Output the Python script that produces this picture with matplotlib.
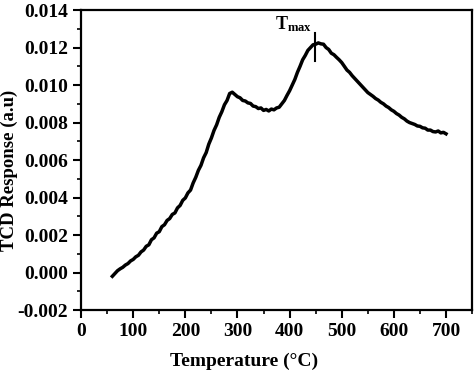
import matplotlib
matplotlib.use('Agg')
import matplotlib.pyplot as plt
import numpy as np
from matplotlib.ticker import MultipleLocator, FormatStrFormatter

# TPR trace, every 5 degC
temp = np.arange(60, 705, 5)
tcd = [-0.00020, -0.00005, 0.00010, 0.00020, 0.00028, 0.00040, 0.00048, 0.00062,
       0.00070, 0.00084, 0.00092, 0.00110, 0.00120, 0.00140, 0.00148, 0.00175,
       0.00185, 0.00210, 0.00218, 0.00245, 0.00255, 0.00278, 0.00288, 0.00310,
       0.00318, 0.00345, 0.00358, 0.00385, 0.00398, 0.00425, 0.00440, 0.00478,
       0.00508, 0.00545, 0.00572, 0.00612, 0.00640, 0.00685, 0.00718, 0.00758,
       0.00788, 0.00828, 0.00858, 0.00895, 0.00918, 0.00955, 0.00962, 0.00950,
       0.00938, 0.00932, 0.00918, 0.00915, 0.00905, 0.00902, 0.00888, 0.00885,
       0.00875, 0.00878, 0.00865, 0.00870, 0.00862, 0.00872, 0.00868, 0.00878,
       0.00882, 0.00900, 0.00918, 0.00945, 0.00970, 0.01000, 0.01030, 0.01068,
       0.01100, 0.01135, 0.01158, 0.01185, 0.01200, 0.01215, 0.01218, 0.01225,
       0.01220, 0.01218, 0.01200, 0.01190, 0.01170, 0.01162, 0.01148, 0.01135,
       0.01120, 0.01100, 0.01080, 0.01068, 0.01050, 0.01035, 0.01020, 0.01005,
       0.00990, 0.00975, 0.00960, 0.00950, 0.00940, 0.00928, 0.00920, 0.00908,
       0.00900, 0.00888, 0.00880, 0.00868, 0.00860, 0.00848, 0.00840, 0.00828,
       0.00820, 0.00808, 0.00800, 0.00795, 0.00790, 0.00782, 0.00780, 0.00772,
       0.00770, 0.00760, 0.00760, 0.00752, 0.00750, 0.00755, 0.00745, 0.00748,
       0.00740]

t_max = 448
t_max_span = [0.0113, 0.0128]

plt.rcParams['font.family'] = 'Liberation Serif'
plt.rcParams['font.weight'] = 'bold'
plt.rcParams['mathtext.fontset'] = 'custom'
plt.rcParams['mathtext.bf'] = 'Liberation Serif:bold'
plt.rcParams['mathtext.rm'] = 'Liberation Serif:bold'

fig = plt.figure(figsize=(4.74, 3.74), dpi=100)
ax = fig.add_axes([0.171, 0.171, 0.825, 0.802])

ax.plot(temp, tcd, color='black', lw=2.5)
ax.plot([t_max, t_max], t_max_span, color='black', lw=1.5)
ax.text(408, 0.01325, r'$\mathbf{T_{max}}$', ha='center', va='center', fontsize=13)

ax.set_xlim(0, 750)
ax.set_ylim(-0.002, 0.014)
ax.xaxis.set_major_locator(MultipleLocator(100))
ax.xaxis.set_minor_locator(MultipleLocator(50))
ax.yaxis.set_major_locator(MultipleLocator(0.002))
ax.yaxis.set_minor_locator(MultipleLocator(0.001))
ax.set_xticks(np.arange(0, 800, 100))
ax.set_xticklabels([str(v) for v in range(0, 800, 100)])
ax.yaxis.set_major_formatter(FormatStrFormatter('%.3f'))
ax.set_xlim(0, 750)

ax.tick_params(which='major', direction='out', length=6, width=1.5, labelsize=14)
ax.tick_params(which='minor', direction='out', length=3, width=1.2)
for sp in ax.spines.values():
    sp.set_linewidth(1.6)

fig.text(244.5 / 474, 1 - 361 / 374, 'Temperature (°C)', fontsize=14,
         fontweight='bold', ha='center', va='center')
fig.text(9 / 474, 1 - 170 / 374, 'TCD Response (a.u)', fontsize=13.5,
         fontweight='bold', ha='center', va='center', rotation=90)

fig.savefig('out.png', dpi=100)
